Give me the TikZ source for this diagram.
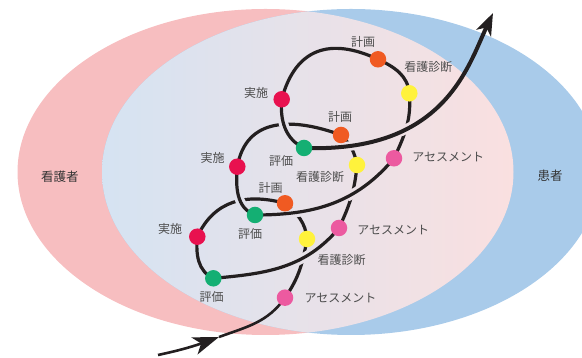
\documentclass[tikz,border=0pt]{standalone}
\usepackage{fontspec}
\newfontfamily\jp{Noto Sans CJK JP}
\usetikzlibrary{arrows.meta}
\definecolor{nurseC}{HTML}{F7BEC0}
\definecolor{patC}{HTML}{A9CBEA}
\definecolor{ovL}{HTML}{D5E3F2}
\definecolor{ovR}{HTML}{FAE0E0}
\definecolor{ink}{HTML}{231F20}
\definecolor{labc}{HTML}{4D4D4D}
\definecolor{namec}{HTML}{333333}
\definecolor{cA}{HTML}{EC5AA0}
\definecolor{cD}{HTML}{FFF23C}
\definecolor{cP}{HTML}{F05A22}
\definecolor{cI}{HTML}{E8114F}
\definecolor{cE}{HTML}{14AF73}
\begin{document}
\begin{tikzpicture}[x=1pt,y=1pt,
  link/.style={draw=ink,line width=3.2pt},
  halo/.style={draw=#1,line width=9.5pt},
  dot/.style={circle,fill=#1,minimum size=16.5pt,inner sep=0pt},
  lab/.style={font=\jp\fontsize{12}{14}\selectfont,text=labc,inner sep=0pt},
  side/.style={font=\jp\fontsize{12.5}{14}\selectfont,text=namec,inner sep=0pt},
  bigtip/.style={-{Stealth[length=22pt,width=16pt,inset=6pt]}},
  lowtip/.style={-{Stealth[length=26pt,width=18pt,inset=7pt]}},
]
\useasboundingbox (0,0) rectangle (582,358);
\clip (0,0) rectangle (582,358);
% ellipses
\fill[nurseC] (265.5,186) ellipse (248pt and 163pt);
\fill[patC] (351,186) ellipse (249pt and 163pt);
\begin{scope}
  \clip (265.5,186) ellipse (248pt and 163pt);
  \clip (351,186) ellipse (249pt and 163pt);
  \shade[left color=ovL,right color=ovR] (102,0) rectangle (514,358);
\end{scope}
% points
\coordinate (S) at (158,3);
\coordinate (M) at (219,21);
\coordinate (T) at (493,345);
\coordinate (A1) at (285,60.3);
\coordinate (D1) at (307,119);
\coordinate (P1) at (285,154.7);
\coordinate (I1) at (197.3,121.3);
\coordinate (E1) at (213.3,79.7);
\coordinate (A2) at (339,130);
\coordinate (D2) at (357,193);
\coordinate (P2) at (341,223);
\coordinate (I2) at (237.3,191.3);
\coordinate (E2) at (255,143);
\coordinate (A3) at (394,199.7);
\coordinate (D3) at (409.3,264.7);
\coordinate (P3) at (378,298.7);
\coordinate (I3) at (281.7,258.7);
\coordinate (E3) at (304,210);
% spiral
\draw[draw=ink,line width=2.6pt,lowtip] (S) to[out=12,in=200] (M);
\draw[draw=ink,line width=2.6pt] (M) to[out=20,in=235] (A1);
\draw[link] (A1) to[out=55,in=260] (D1);
\draw[link] (D1) to[out=95,in=-40] (P1);
\draw[link] (P1) to[out=165,in=65,looseness=1.1] (I1);
\draw[link] (I1) to[out=265,in=155] (E1);
\begin{scope}\clip (306,104) circle (14pt);
  \draw[halo=ovR!49!ovL] (E1) to[out=5,in=230] (A2);
\end{scope}
\draw[link] (E1) to[out=5,in=230] (A2);
\draw[link] (A2) to[out=65,in=265] (D2);
\draw[link] (D2) to[out=100,in=-45] (P2);
\draw[link] (P2) to[out=160,in=80,looseness=1.2] (I2);
\begin{scope}\clip (236.7,158.7) circle (14pt);
  \draw[halo=ovR!33!ovL] (I2) to[out=265,in=160] (E2);
\end{scope}
\draw[link] (I2) to[out=265,in=160] (E2);
\begin{scope}\clip (300,146.3) circle (14pt);
  \draw[halo=ovR!48!ovL] (E2) to[out=0,in=230] (A3);
\end{scope}
\begin{scope}\clip (355,169.7) circle (14pt);
  \draw[halo=ovR!61!ovL] (E2) to[out=0,in=230] (A3);
\end{scope}
\draw[link] (E2) to[out=0,in=230] (A3);
\draw[link] (A3) to[out=65,in=275] (D3);
\draw[link] (D3) to[out=95,in=-25] (P3);
\draw[link] (P3) to[out=155,in=75,looseness=1.3] (I3);
\begin{scope}\clip (282,230) circle (14pt);
  \draw[halo=ovR!44!ovL] (I3) to[out=265,in=155] (E3);
\end{scope}
\draw[link] (I3) to[out=265,in=155] (E3);
\begin{scope}\clip (350,216.3) circle (14pt);
  \draw[halo=ovR!60!ovL] (E3) to[out=-2,in=245,out distance=140pt,in distance=60pt] (T);
\end{scope}
\begin{scope}\clip (408.3,234.7) circle (14pt);
  \draw[halo=ovR!74!ovL] (E3) to[out=-2,in=245,out distance=140pt,in distance=60pt] (T);
\end{scope}
\draw[link,line width=4pt,bigtip] (E3) to[out=-2,in=245,out distance=140pt,in distance=60pt] (T);
% dots
\node[dot=cA] (nA1) at (A1) {};
\node[dot=cD] (nD1) at (D1) {};
\node[dot=cP] (nP1) at (P1) {};
\node[dot=cI] (nI1) at (I1) {};
\node[dot=cE] (nE1) at (E1) {};
\node[dot=cA] (nA2) at (A2) {};
\node[dot=cD] (nD2) at (D2) {};
\node[dot=cP] (nP2) at (P2) {};
\node[dot=cI] (nI2) at (I2) {};
\node[dot=cE] (nE2) at (E2) {};
\node[dot=cA] (nA3) at (A3) {};
\node[dot=cD] (nD3) at (D3) {};
\node[dot=cP] (nP3) at (P3) {};
\node[dot=cI] (nI3) at (I3) {};
\node[dot=cE] (nE3) at (E3) {};
% labels
\node[lab] (lP3) at (363,316.3) {計画};
\node[lab] (lD3) at (428.3,291.3) {看護診断};
\node[lab] (lI3) at (256,265.3) {実施};
\node[lab] (lP2) at (340,240.7) {計画};
\node[lab] (lE3) at (281,197.3) {評価};
\node[lab] (lI2) at (212.7,200) {実施};
\node[lab] (lD2) at (320,181.3) {看護診断};
\node[lab] (lA3) at (448.3,200.7) {アセスメント};
\node[lab] (lP1) at (270.7,170.3) {計画};
\node[lab] (lE2) at (250,124) {評価};
\node[lab] (lI1) at (170,129) {実施};
\node[lab] (lA2) at (393.3,128) {アセスメント};
\node[lab] (lD1) at (341.7,98) {看護診断};
\node[lab] (lE1) at (211.7,61.3) {評価};
\node[lab] (lA1) at (340.5,59.7) {アセスメント};
\node[side] (nurse) at (60,181) {看護者};
\node[side] (patient) at (550,182) {患者};
\end{tikzpicture}
\end{document}
